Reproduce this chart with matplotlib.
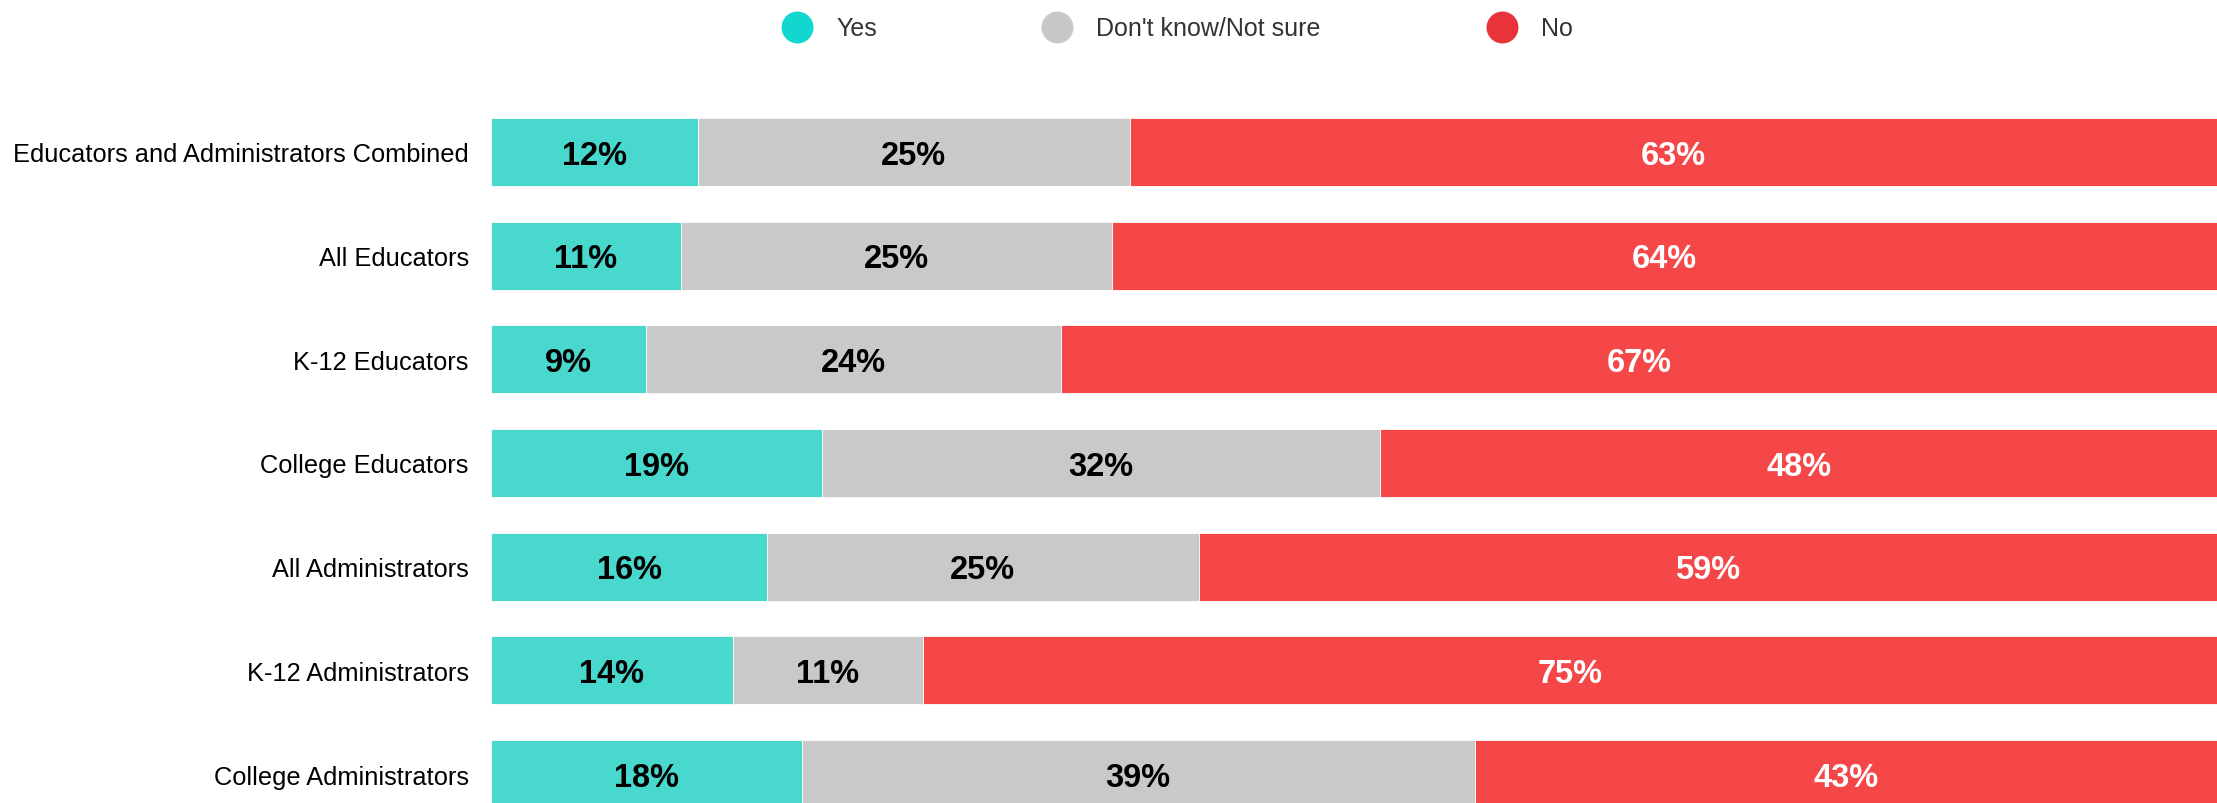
import numpy as np
import matplotlib
matplotlib.use("Agg")
import matplotlib.pyplot as plt

# ── Data ─────────────────────────────────────────────────────────────────────
categories = [
    "Educators and Administrators Combined",
    "All Educators",
    "K-12 Educators",
    "College Educators",
    "All Administrators",
    "K-12 Administrators",
    "College Administrators",
]
yes_pct    = [12, 11, 9, 19, 16, 14, 18]
unsure_pct = [25, 25, 24, 32, 25, 11, 39]
no_pct     = [63, 64, 67, 48, 59, 75, 43]
series_names = ["Yes", "Don't know/Not sure", "No"]

# ── Style ────────────────────────────────────────────────────────────────────
BAR_COLORS    = ["#48D8CE", "#C9C9C9", "#F54747"]
LEGEND_COLORS = ["#12D7CE", "#C8C8C8", "#E8333B"]
TEXT_COLORS   = ["black", "black", "white"]
W, H, DPI     = 2217, 804, 100

plt.rcParams["font.family"] = ["Liberation Sans", "DejaVu Sans"]

fig = plt.figure(figsize=(W / DPI, H / DPI), dpi=DPI)

# main axes: left edge at 491px, runs to right edge, clipped at bottom
ax = fig.add_axes([491 / W, 0, 1 - 491 / W, (H - 100) / H])

values = np.array([yes_pct, unsure_pct, no_pct], dtype=float)
widths = values / values.sum(axis=0) * 100     # rows with rounding to 99 still fill the bar
y = np.arange(len(categories))

left = np.zeros(len(categories))
for i, name in enumerate(series_names):
    ax.barh(y, widths[i], left=left, height=0.655, color=BAR_COLORS[i],
            edgecolor="white", linewidth=0.6, label=name)
    for yy, l, w, v in zip(y, left, widths[i], values[i]):
        ax.annotate(f"{int(v)}%", (l + w / 2, yy), xytext=(0, -2.2),
                    textcoords="offset points", ha="center", va="center",
                    fontsize=23.5, fontweight="bold", color=TEXT_COLORS[i])
    left += widths[i]

ax.set_xlim(0, 100)
ax.set_ylim(6 + 29 / 103.67, -53 / 103.67)
ax.set_yticks(y)
ax.set_yticklabels(categories, fontsize=18.3)
ax.tick_params(axis="y", length=0, pad=16)
ax.set_xticks([])
for s in ax.spines.values():
    s.set_visible(False)

# ── Legend row (hand-placed, spacing is uneven in the original) ─────────────
leg = fig.add_axes([0, (H - 60) / H, 1, 60 / H])
leg.set_xlim(0, W)
leg.set_ylim(60, 0)
leg.axis("off")
marker_x = [797, 1057, 1502]
for mx, c, name in zip(marker_x, LEGEND_COLORS, series_names):
    leg.scatter([mx], [28], s=23 ** 2, color=c, linewidths=0)
    leg.text(mx + 39, 29, name, ha="left", va="center", fontsize=18, color="#333333")

plt.savefig("out.png", dpi=DPI)
plt.close()
